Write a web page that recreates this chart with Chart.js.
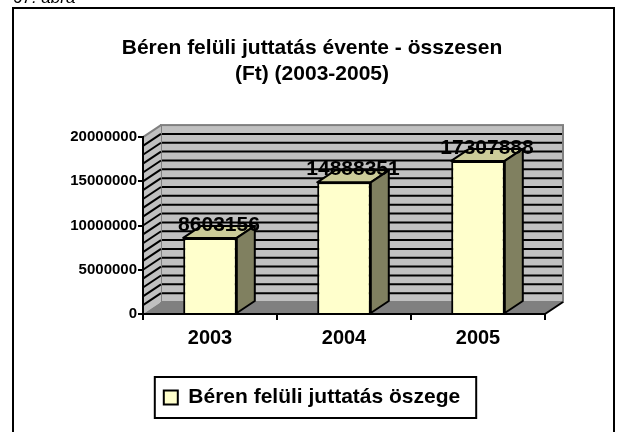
<!DOCTYPE html>
<html lang="hu">
<head>
<meta charset="utf-8">
<title>Béren felüli juttatás évente</title>
<script src="https://cdn.jsdelivr.net/npm/chart.js@4.4.1/dist/chart.umd.min.js"></script>
<style>
    html, body { margin: 0; padding: 0; background: #ffffff; }
    #wrap { width: 620px; height: 432px; position: relative; overflow: hidden; }
</style>
</head>
<body>
<div id="wrap"><canvas id="chartJuttatas" width="620" height="432"></canvas></div>
<script>
// ============================================
// Adatok
// ============================================
const evek = ['2003', '2004', '2005'];
const juttatas = [8603156, 14888351, 17307888];
const sorozatNev = 'Béren felüli juttatás öszege';
const cimSorok = ['Béren felüli juttatás évente - összesen', '(Ft) (2003-2005)'];
const abraFelirat = '67. ábra';
const yMax = 20000000;
const yLepes = 5000000;
const racsLepes = 1000000;

const BETU = '"Liberation Sans", Arial, sans-serif';
const MELYSEG_X = 18;   // 3D mélység vízszintesen
const MELYSEG_Y = 12;   // 3D mélység függőlegesen

// fal, padló, oldalfal és a keret - az oszlopok előtt
const hatterPlugin = {
    id: 'hatter3d',
    beforeDraw(chart) {
        const { ctx, chartArea: a, scales: { y } } = chart;
        const dx = MELYSEG_X, dy = MELYSEG_Y;
        const y0 = y.getPixelForValue(0);
        const yTop = y.getPixelForValue(yMax);

        ctx.save();

        // külső keret + ábra felirat
        ctx.strokeStyle = '#000';
        ctx.lineWidth = 2;
        ctx.strokeRect(13, 8, 601, 440);
        ctx.fillStyle = '#000';
        ctx.font = 'italic 17px ' + BETU;
        ctx.textBaseline = 'alphabetic';
        ctx.fillText(abraFelirat, 13, 3);

        // hátsó fal
        ctx.fillStyle = '#c0c0c0';
        ctx.fillRect(a.left + dx, yTop - dy, a.right - a.left, y0 - yTop);
        ctx.strokeStyle = '#000';
        ctx.lineWidth = 2;
        for (let v = racsLepes; v < yMax; v += racsLepes) {
            const yy = y.getPixelForValue(v) - dy;
            ctx.beginPath();
            ctx.moveTo(a.left + dx, yy);
            ctx.lineTo(a.right + dx, yy);
            ctx.stroke();
        }
        ctx.strokeStyle = '#808080';
        ctx.strokeRect(a.left + dx, yTop - dy, a.right - a.left, y0 - yTop);

        // bal oldalfal, csíkozva
        ctx.fillStyle = '#c0c0c0';
        ctx.beginPath();
        ctx.moveTo(a.left, y0);
        ctx.lineTo(a.left, yTop);
        ctx.lineTo(a.left + dx, yTop - dy);
        ctx.lineTo(a.left + dx, y0 - dy);
        ctx.closePath();
        ctx.fill();
        ctx.strokeStyle = '#000';
        for (let v = racsLepes; v < yMax; v += racsLepes) {
            const yy = y.getPixelForValue(v);
            ctx.beginPath();
            ctx.moveTo(a.left, yy);
            ctx.lineTo(a.left + dx, yy - dy);
            ctx.stroke();
        }
        ctx.strokeStyle = '#808080';
        ctx.beginPath();
        ctx.moveTo(a.left, yTop);
        ctx.lineTo(a.left + dx, yTop - dy);
        ctx.stroke();

        // padló
        ctx.fillStyle = '#808080';
        ctx.beginPath();
        ctx.moveTo(a.left, y0);
        ctx.lineTo(a.right, y0);
        ctx.lineTo(a.right + dx, y0 - dy);
        ctx.lineTo(a.left + dx, y0 - dy);
        ctx.closePath();
        ctx.fill();
        ctx.strokeStyle = '#000';
        ctx.beginPath();
        ctx.moveTo(a.right, y0);
        ctx.lineTo(a.right + dx, y0 - dy);
        ctx.stroke();

        ctx.restore();
    }
};

// oszlopok teteje, oldala és az értékfeliratok
const oszlopPlugin = {
    id: 'oszlop3d',
    afterDatasetsDraw(chart) {
        const { ctx } = chart;
        const dx = MELYSEG_X, dy = MELYSEG_Y;
        const meta = chart.getDatasetMeta(0);

        ctx.save();
        ctx.lineWidth = 2;
        ctx.strokeStyle = '#000';
        ctx.lineJoin = 'round';

        meta.data.forEach((bar, i) => {
            const bal = bar.x - bar.width / 2;
            const jobb = bar.x + bar.width / 2;

            // tető
            ctx.fillStyle = '#cccc99';
            ctx.beginPath();
            ctx.moveTo(bal, bar.y);
            ctx.lineTo(jobb, bar.y);
            ctx.lineTo(jobb + dx, bar.y - dy);
            ctx.lineTo(bal + dx, bar.y - dy);
            ctx.closePath();
            ctx.fill();
            ctx.stroke();

            // oldal
            ctx.fillStyle = '#808060';
            ctx.beginPath();
            ctx.moveTo(jobb, bar.y);
            ctx.lineTo(jobb + dx, bar.y - dy);
            ctx.lineTo(jobb + dx, bar.base - dy);
            ctx.lineTo(jobb, bar.base);
            ctx.closePath();
            ctx.fill();
            ctx.stroke();

            // érték
            ctx.fillStyle = '#000';
            ctx.font = 'bold 21px ' + BETU;
            ctx.textAlign = 'center';
            ctx.textBaseline = 'middle';
            ctx.fillText(String(juttatas[i]), bar.x + dx / 2, bar.y - 13);
        });
        ctx.restore();
    },
    afterDraw(chart) {
        // jelmagyarázat kerete
        const hb = chart.legend && chart.legend.legendHitBoxes && chart.legend.legendHitBoxes[0];
        if (!hb) return;
        const { ctx } = chart;
        ctx.save();
        ctx.strokeStyle = '#000';
        ctx.lineWidth = 2;
        ctx.strokeRect(hb.left - 9, hb.top - 10, hb.width + 25, hb.height + 20);
        ctx.restore();
    }
};

const ctx = document.getElementById('chartJuttatas');

new Chart(ctx, {
    type: 'bar',
    data: {
        labels: evek,
        datasets: [{
            label: sorozatNev,
            data: juttatas,
            backgroundColor: '#ffffcc',
            borderColor: '#000000',
            borderWidth: 2,
            categoryPercentage: 1,
            barPercentage: 0.4
        }]
    },
    options: {
        responsive: false,
        animation: false,
        devicePixelRatio: 1,
        layout: {
            padding: { top: 0, left: 4, right: 0, bottom: 14 }
        },
        plugins: {
            title: {
                display: true,
                text: cimSorok,
                color: '#000',
                font: { family: BETU, size: 21, weight: 'bold', lineHeight: 1.24 },
                padding: { top: 35, bottom: 50 }
            },
            legend: {
                display: true,
                position: 'bottom',
                labels: {
                    color: '#000',
                    font: { family: BETU, size: 21, weight: 'bold' },
                    boxWidth: 14,
                    boxHeight: 14,
                    padding: 10
                }
            },
            tooltip: { enabled: false }
        },
        scales: {
            x: {
                grid: {
                    display: true,
                    drawOnChartArea: false,
                    drawTicks: true,
                    tickLength: 6,
                    color: '#000',
                    lineWidth: 2
                },
                border: { display: true, color: '#000', width: 2 },
                ticks: {
                    color: '#000',
                    font: { family: BETU, size: 20, weight: 'bold' },
                    padding: 6
                },
                afterFit: (scale) => { scale.height = 63; }
            },
            y: {
                min: 0,
                max: yMax,
                grid: {
                    display: true,
                    drawOnChartArea: false,
                    drawTicks: true,
                    tickLength: 5,
                    color: '#000',
                    lineWidth: 2
                },
                border: { display: true, color: '#000', width: 2 },
                ticks: {
                    stepSize: yLepes,
                    color: '#000',
                    font: { family: BETU, size: 15, weight: 'bold' },
                    padding: 1,
                    callback: (value) => String(value)
                },
                afterFit: (scale) => { scale.width = 139; }
            },
            // üres jobb oldali tengely: csak helyet foglal a 3D falnak
            yJobb: {
                position: 'right',
                grid: { display: false },
                border: { display: false },
                ticks: { display: false },
                afterFit: (scale) => { scale.width = 75; }
            }
        }
    },
    plugins: [hatterPlugin, oszlopPlugin]
});
</script>
</body>
</html>
